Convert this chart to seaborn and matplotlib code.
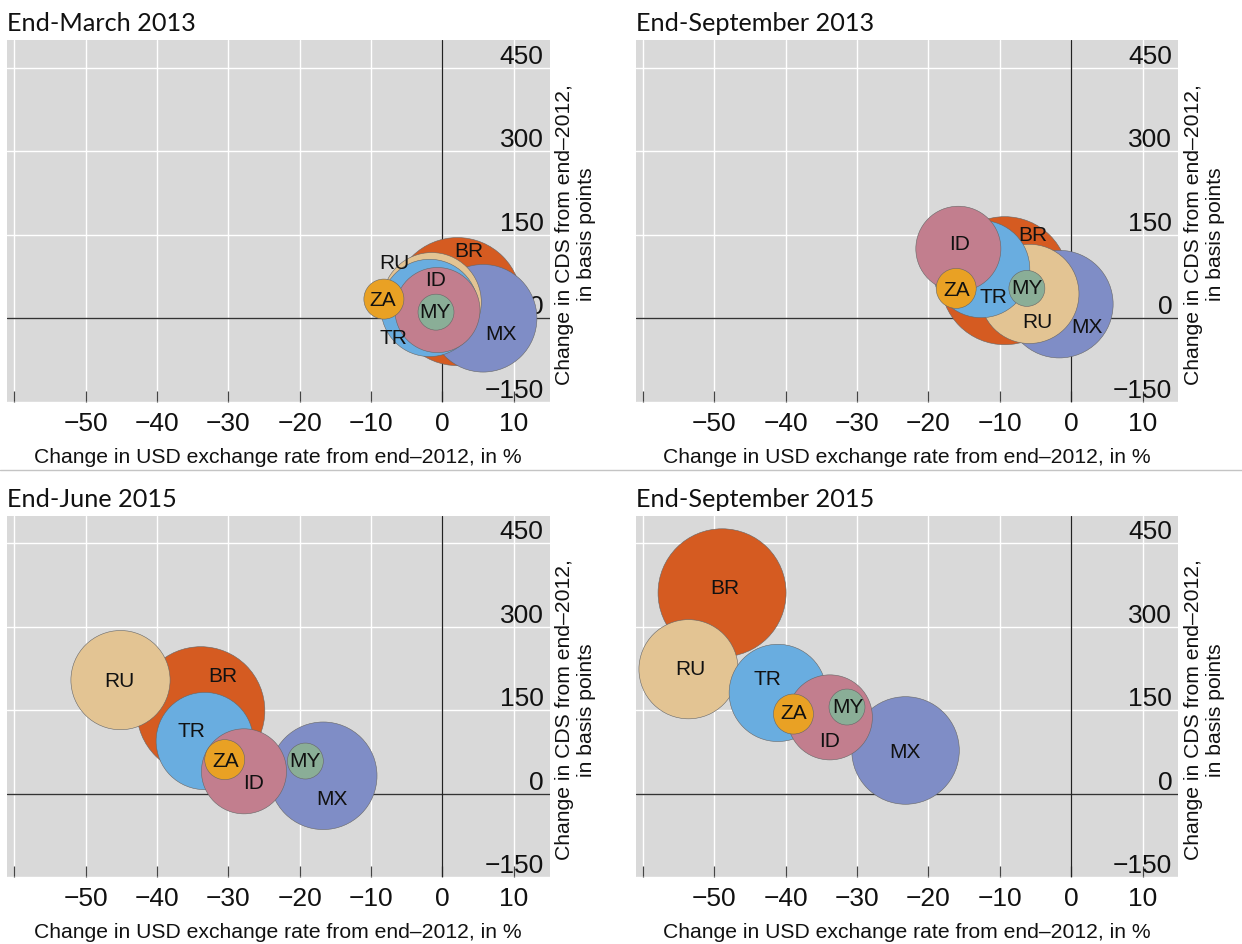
import numpy as np
import pandas as pd
import matplotlib
matplotlib.use("Agg")
import matplotlib.pyplot as plt
from matplotlib import font_manager as fm
from matplotlib.lines import Line2D
import seaborn as sns

# ---------------- data ----------------
countries = ["BR", "MX", "RU", "TR", "ID", "ZA", "MY"]          # drawn largest first
bubble_weight = [8.5, 6.0, 5.1, 4.9, 3.75, 0.83, 0.67]           # relative bubble area

panel_titles = ["End-March 2013", "End-September 2013", "End-June 2015", "End-September 2015"]

fx_mar13 = [2.1, 5.7, -1.5, -1.8, -0.7, -8.2, -0.9]
cds_mar13 = [30, 0, 29, 18.6, 14.8, 34.5, 11]
fx_sep13 = [-9.3, -1.65, -5.85, -12.6, -15.8, -16.1, -6.2]
cds_sep13 = [67.6, 25.4, 43.8, 88.5, 125, 53.7, 53.7]
fx_jun15 = [-33.85, -16.7, -45.1, -33.3, -27.8, -30.5, -19.2]
cds_jun15 = [149, 32, 204, 94.5, 40, 61, 58.5]
fx_sep15 = [-48.9, -23.2, -53.6, -41.1, -33.8, -38.9, -31.4]
cds_sep15 = [361, 77.5, 223.6, 181, 137, 143, 155.6]

# label anchor points (data coords) per panel
lab_x_mar13 = [3.7, 8.15, -6.8, -6.8, -1.0, -8.3, -1.0]
lab_y_mar13 = [121, -27, 101, -35, 70, 33, 12]
lab_x_sep13 = [-5.3, 2.15, -4.75, -10.95, -15.65, -16.0, -6.25]
lab_y_sep13 = [150, -14, -6, 39, 134, 52, 55]
lab_x_jun15 = [-30.8, -15.45, -45.2, -35.1, -26.4, -30.4, -19.2]
lab_y_jun15 = [212, -9, 204, 114, 20, 60, 60]
lab_x_sep15 = [-48.5, -23.3, -53.3, -42.5, -33.9, -38.9, -31.2]
lab_y_sep15 = [370, 76, 225, 207, 95, 146, 156]

x_ticks = [-60, -50, -40, -30, -20, -10, 0, 10]
x_tick_labels = ["", "\u221250", "\u221240", "\u221230", "\u221220", "\u221210", "0", "10"]
y_ticks = [-150, 0, 150, 300, 450]
y_tick_labels = ["\u2212150", "0", "150", "300", "450"]

colors = {"BR": "#D55B21", "MX": "#7F8DC6", "RU": "#E3C493", "TR": "#69ADE0",
          "ID": "#C27E8E", "ZA": "#E9A124", "MY": "#8AAE97"}

panels = [
    (fx_mar13, cds_mar13, lab_x_mar13, lab_y_mar13),
    (fx_sep13, cds_sep13, lab_x_sep13, lab_y_sep13),
    (fx_jun15, cds_jun15, lab_x_jun15, lab_y_jun15),
    (fx_sep15, cds_sep15, lab_x_sep15, lab_y_sep15),
]

# ---------------- fonts ----------------
names = {f.name for f in fm.fontManager.ttflist}
tick_font = "Liberation Sans Narrow" if "Liberation Sans Narrow" in names else "Liberation Sans"
title_font = "Lato" if "Lato" in names else "DejaVu Sans"
text_font = "Liberation Sans" if "Liberation Sans" in names else "DejaVu Sans"

sns.set_style("white")
plt.rcParams["font.family"] = [text_font, "DejaVu Sans"]

W, H = 1242, 945
fig = plt.figure(figsize=(W / 100, H / 100), dpi=100)

ax_w, ax_h = 542.5 / W, 361.5 / H
positions = [
    (7 / W, 1 - 402.7 / H),
    (635.7 / W, 1 - 402.7 / H),
    (7 / W, 1 - 878.0 / H),
    (635.7 / W, 1 - 878.0 / H),
]

for i, (fx, cds, lx, ly) in enumerate(panels):
    ax = fig.add_axes([positions[i][0], positions[i][1], ax_w, ax_h])
    df = pd.DataFrame({"country": countries, "fx": fx, "cds": cds, "weight": bubble_weight})
    ax.set_facecolor("#D9D9D9")
    ax.set_axisbelow(True)
    for s in ax.spines.values():
        s.set_visible(False)
    ax.axhline(0, color="#333333", lw=1.0, zorder=1)
    ax.axvline(0, color="#222222", lw=0.9, zorder=1)
    sns.scatterplot(data=df, x="fx", y="cds", hue="country", palette=colors,
                    size="weight", sizes=(0, 8500), size_norm=(0, 8.5),
                    legend=False, ax=ax, edgecolor=(0.4, 0.4, 0.4, 0.22),
                    linewidth=0.4, alpha=1, zorder=2)
    for c, x, y in zip(countries, lx, ly):
        ax.text(x, y, c, ha="center", va="center", fontsize=15, color="#111111",
                family=text_font, zorder=4)
    ax.set_xlim(-61, 15)
    ax.set_ylim(-150, 500)
    ax.set_xticks(x_ticks, x_tick_labels)
    ax.set_yticks(y_ticks, y_tick_labels)
    ax.grid(True, color="white", lw=1.0)
    ax.yaxis.tick_right()
    ax.tick_params(axis="y", length=0, pad=-4.3, labelright=True, labelleft=False,
                   labelsize=19, labelcolor="#111111")
    ax.tick_params(axis="x", direction="in", length=8, width=0.9, color="#444444",
                   pad=6.5, labelsize=19, labelcolor="#111111", bottom=True)
    for t in ax.get_yticklabels():
        t.set_ha("right")
        t.set_va("bottom")
        t.set_family(tick_font)
    for t in ax.get_xticklabels():
        t.set_family(tick_font)
    ax.set_xlabel("Change in USD exchange rate from end\u20132012, in %",
                  fontsize=15.2, family=text_font, color="#111111")
    ax.xaxis.set_label_coords(0.5, -0.125)
    ax.yaxis.set_label_position("right")
    ax.set_ylabel("Change in CDS from end\u20132012,\nin basis points",
                  fontsize=15.2, family=text_font, color="#111111", linespacing=1.2)
    ax.yaxis.set_label_coords(1.011, 0.465)
    ax.set_title(panel_titles[i], loc="left", fontsize=18.2, family=title_font,
                 pad=7, color="#111111")

fig.add_artist(Line2D([0, 1], [1 - 470.5 / H] * 2, transform=fig.transFigure,
                      color="#C4C4C4", lw=1.0))

fig.savefig("out.png", dpi=100)
